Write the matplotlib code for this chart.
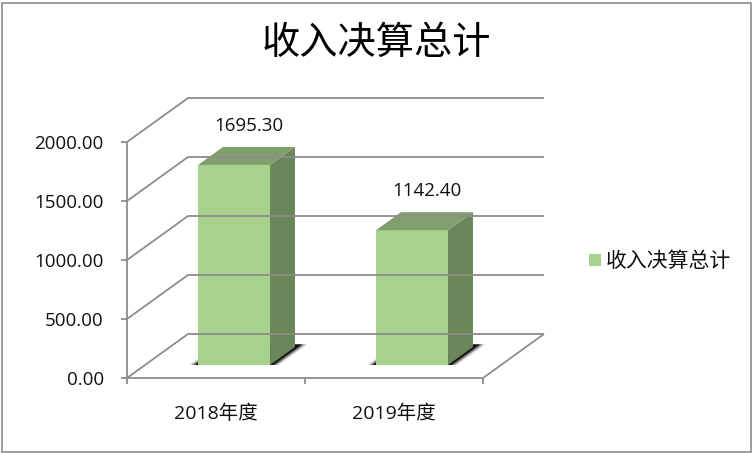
import matplotlib
matplotlib.use("Agg")
import matplotlib.pyplot as plt
from matplotlib.patches import Rectangle

plt.rcParams['font.family'] = ['Open Sans', 'Noto Sans CJK SC', 'DejaVu Sans']

categories = ["2018年度", "2019年度"]
values = [1695.30, 1142.40]
value_ticks = [0, 500, 1000, 1500, 2000]
title = "收入决算总计"

W, H = 753, 453
fig = plt.figure(figsize=(W / 100, H / 100), dpi=100)
# front plane of the 3d box
ax = fig.add_axes([127 / W, 1 - 378 / H, 356 / W, 236 / H])
ax.set_xlim(0, 2)
ax.set_ylim(0, 2000)
ax.axis("off")

# oblique depth, in data units
DX = 61 / 178
DY = 44 * 2000 / 236
NEAR = 13 / 44
FAR = 31 / 44
BAR_W = 72 / 178


def proj(x, v, d=0.0):
    return x + d * DX, v + d * DY


def line(pts, **kw):
    ax.plot([p[0] for p in pts], [p[1] for p in pts], clip_on=False,
            solid_capstyle="butt", **kw)


def face(pts, color, **kw):
    ax.fill([p[0] for p in pts], [p[1] for p in pts], color=color, lw=0,
            clip_on=False, **kw)


grey = "#8c8c8c"
# back wall grid + left wall
for v in value_ticks:
    line([proj(0, v), proj(0, v, 1), proj(2, v, 1)], color=grey, lw=1.3)
    line([proj(-6 * 2 / 356, v), proj(0, v)], color=grey, lw=1.3)
# floor and axis
line([proj(0, 0), proj(2, 0), proj(2, 0, 1)], color=grey, lw=1.3)
line([proj(0, 0), proj(0, 2000)], color=grey, lw=1.3)
for i in range(3):
    line([proj(i, 0), proj(i, -50)], color=grey, lw=1.3)

for i, v in enumerate(values):
    x0 = i + 0.5 - BAR_W / 2
    x1 = i + 0.5 + BAR_W / 2
    # soft shadow on the floor
    for grow, alpha in [(9, 0.12), (7, 0.25), (5, 0.45), (3, 0.8)]:
        g = grow * 2 / 356
        face([proj(x0 - g, 0, NEAR), proj(x1 + g, 0, NEAR),
              proj(x1 + g, 0, FAR + 0.06), proj(x0 - g, 0, FAR + 0.06)],
             "#000000", alpha=alpha)
    face([proj(x0, 0, NEAR), proj(x1, 0, NEAR), proj(x1, v, NEAR), proj(x0, v, NEAR)], "#a9d18e")
    face([proj(x1, 0, NEAR), proj(x1, 0, FAR), proj(x1, v, FAR), proj(x1, v, NEAR)], "#6b8759")
    face([proj(x0, v, NEAR), proj(x1, v, NEAR), proj(x1, v, FAR), proj(x0, v, FAR)], "#809f6c")
    lx, ly = proj(i + 0.5, v, FAR)
    ax.text(lx - 10 * 2 / 356, ly + 105, f"{v:.2f}", ha="center", va="bottom",
            fontsize=13.5, color="#111111", clip_on=False)

# labels sit a touch under the tick
for v in value_ticks:
    ax.text(-0.13, v - 17, f"{v:.2f}", ha="right", va="center", fontsize=13.5, color="#111111")
for i, c in enumerate(categories):
    ax.text(i + 0.5, -300, c, ha="center", va="center", fontsize=14, color="#111111")

fig.text(376 / W, 1 - 44 / H, title, ha="center", va="center", fontsize=27.5, color="#000000")

# legend
fig.patches.append(Rectangle((589 / W, 1 - 266 / H), 12 / W, 12 / H, transform=fig.transFigure,
                             facecolor="#a9d18e", edgecolor="none"))
fig.text(606 / W, 1 - 261 / H, title, ha="left", va="center", fontsize=15, color="#111111")

# chart border
fig.patches.append(Rectangle((1.5 / W, 1.5 / H), 749 / W, 449 / H, transform=fig.transFigure,
                             facecolor="none", edgecolor="#8c8c8c", lw=1.2))

fig.savefig("out.png", dpi=100)
